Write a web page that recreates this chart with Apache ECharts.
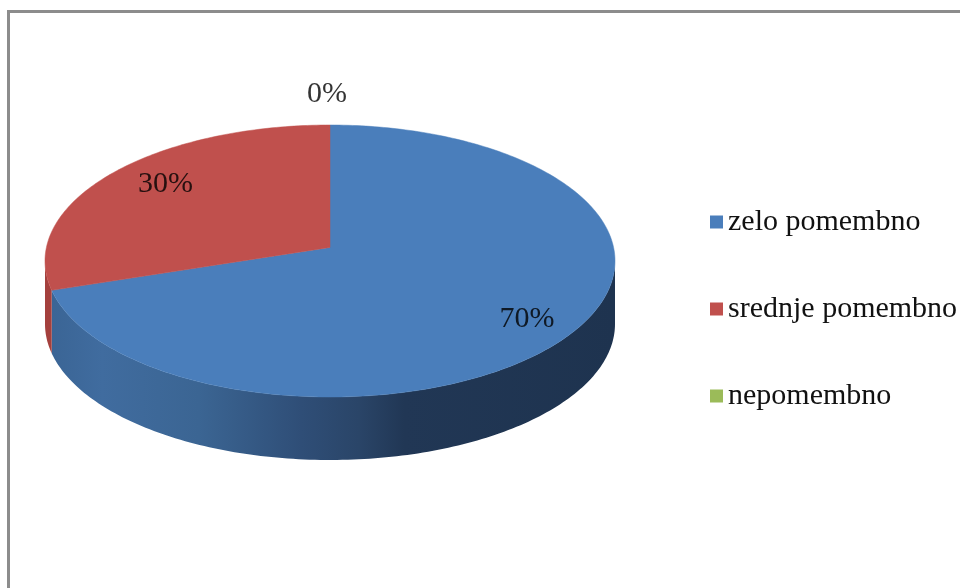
<!DOCTYPE html>
<html>
<head>
<meta charset="utf-8">
<script src="https://cdn.jsdelivr.net/npm/echarts@6/dist/echarts.min.js"></script>
<style>
  html, body { margin: 0; padding: 0; background: #ffffff; }
  #chart { width: 960px; height: 588px; }
</style>
</head>
<body>
<div id="chart"></div>
<script>
// ---- data ----
const categories = ['zelo pomembno', 'srednje pomembno', 'nepomembno'];
const values = [70, 30, 0];

// ---- style ----
const FONT = "'Liberation Serif', 'Times New Roman', serif";
const topColors = ['#4a7ebb', '#c0504d', '#9bbb59'];
const sideColors = [
  [[0, '#3a6494'], [0.1, '#406c9f'], [0.27, '#3b6593'], [0.45, '#2f4e77'], [0.55, '#2a4568'], [0.63, '#213755'], [1, '#1e334f']],
  [[0, '#a4403d'], [1, '#a4403d']],
  [[0, '#7d9a45'], [1, '#7d9a45']]
];
const PERSP = 0.1;          // simple perspective strength (back of pie smaller)
const DEPTH = 0.468;        // side depth in y units
const INSIDE_R = 0.81;      // label radius for non-empty slices
const OUTSIDE_R = 1.28;     // label radius for empty slices
const labelNudge = [[2, 4], [13, -2], [-3, 0]];  // pixel fine-tuning of labels

const total = values.reduce((a, b) => a + b, 0);
const rad = d => d * Math.PI / 180;
const XMAX = 1 / Math.sqrt(1 - PERSP * PERSP);
const YTOP = 1 / (1 + PERSP);
const YBOT = -1 / (1 - PERSP);
const SIL = Math.asin(PERSP) * 180 / Math.PI;   // silhouette angle offset

// project a point on the (tilted) unit disc
function proj(deg, r) {
  const c = r * Math.cos(rad(deg)), s = r * Math.sin(rad(deg));
  const k = 1 / (1 + PERSP * s);
  return [c * k, s * k];
}

function renderSlice(params, api) {
  const i = params.seriesIndex;
  const v = api.value(2);
  let cum = 0;
  for (let k = 0; k < i; k++) cum += values[k];
  const a0 = 90 - 360 * cum / total;
  const a1 = a0 - 360 * v / total;
  const children = [];
  const pt = (deg, r, dy) => { const q = proj(deg, r); return api.coord([q[0], q[1] - (dy || 0)]); };

  if (v > 0) {
    // side faces (front, visible half only)
    for (let k = -1; k <= 1; k++) {
      const lo = Math.max(a1, -180 + SIL + 360 * k);
      const hi = Math.min(a0, -SIL + 360 * k);
      if (hi > lo) {
        const pts = [];
        for (let t = lo; t < hi; t += 1) pts.push(pt(t, 1));
        pts.push(pt(hi, 1));
        for (let t = hi; t > lo; t -= 1) pts.push(pt(t, 1, DEPTH));
        pts.push(pt(lo, 1, DEPTH));
        const L = api.coord([-XMAX, 0]), R = api.coord([XMAX, 0]);
        children.push({
          type: 'polygon', z2: 1,
          shape: { points: pts },
          style: {
            fill: {
              type: 'linear', global: true,
              x: L[0], y: L[1], x2: R[0], y2: R[1],
              colorStops: sideColors[i].map(s => ({ offset: s[0], color: s[1] }))
            },
            stroke: null
          }
        });
      }
    }
    // top face
    const top = [api.coord([0, 0])];
    for (let t = a0; t > a1; t -= 1) top.push(pt(t, 1));
    top.push(pt(a1, 1));
    children.push({
      type: 'polygon', z2: 10,
      shape: { points: top },
      style: { fill: topColors[i], stroke: topColors[i], lineWidth: 0.5 }
    });
  }
  // percentage label
  const mid = (a0 + a1) / 2;
  const p = pt(mid, v > 0 ? INSIDE_R : OUTSIDE_R);
  children.push({
    type: 'text', z2: 20,
    x: p[0] + labelNudge[i][0], y: p[1] + labelNudge[i][1],
    style: {
      text: Math.round(v / total * 100) + '%',
      fill: '#000', opacity: 0.8,
      font: '30px ' + FONT,
      align: 'center', verticalAlign: 'middle'
    }
  });
  return { type: 'group', children };
}

const chart = echarts.init(document.getElementById('chart'), null, { renderer: 'canvas' });
chart.setOption({
  animation: false,
  backgroundColor: '#ffffff',
  color: topColors,
  graphic: [{
    type: 'rect', left: 6, top: 9, z: 100,
    shape: { width: 1000, height: 700 },
    style: { fill: 'none', stroke: '#8c8c8c', lineWidth: 3 }
  }],
  legend: {
    orient: 'vertical', left: 710, top: 206, padding: 0,
    itemWidth: 13, itemHeight: 13, itemGap: 55, icon: 'rect',
    textStyle: { fontFamily: FONT, fontSize: 30, color: '#111', lineHeight: 32 },
    data: categories
  },
  grid: { left: 45, top: 125, width: 570, height: 335 },
  xAxis: { type: 'value', min: -XMAX, max: XMAX, show: false },
  yAxis: { type: 'value', min: YBOT - DEPTH, max: YTOP, show: false },
  series: categories.map((name, i) => ({
    type: 'custom', name,
    coordinateSystem: 'cartesian2d',
    itemStyle: { color: topColors[i] },
    renderItem: renderSlice,
    data: [[0, 0, values[i]]],
    encode: { x: 0, y: 1 }
  }))
});
</script>
</body>
</html>
